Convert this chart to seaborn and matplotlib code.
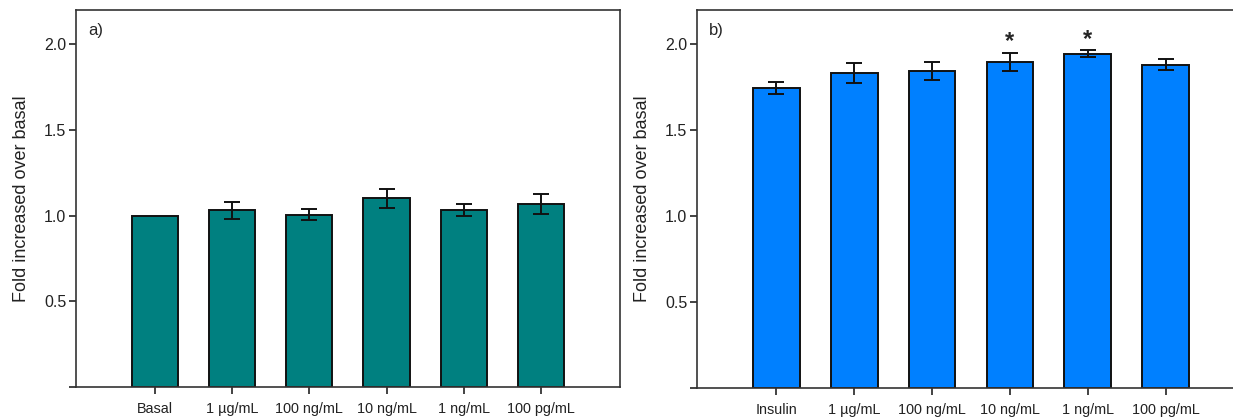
import numpy as np
import pandas as pd
import matplotlib
matplotlib.use('Agg')
import matplotlib.pyplot as plt
import seaborn as sns

sns.set_style('ticks')
plt.rcParams['font.family'] = ['Liberation Sans', 'DejaVu Sans']

# panel a
cats_a = ['Basal', '1 µg/mL', '100 ng/mL', '10 ng/mL', '1 ng/mL', '100 pg/mL']
vals_a = [1.00, 1.03, 1.005, 1.10, 1.03, 1.067]
errs_a = [0.0, 0.05, 0.033, 0.057, 0.035, 0.058]

# panel b
cats_b = ['Insulin', '1 µg/mL', '100 ng/mL', '10 ng/mL', '1 ng/mL', '100 pg/mL']
vals_b = [1.745, 1.833, 1.846, 1.90, 1.947, 1.883]
errs_b = [0.036, 0.058, 0.052, 0.053, 0.022, 0.030]
stars_b = ['', '', '', '*', '*', '']

fig = plt.figure(figsize=(12.33, 4.18), dpi=100)
ax_a = fig.add_axes([0.0616, 0.0742, 0.4412, 0.902])
ax_b = fig.add_axes([0.5653, 0.0718, 0.4445, 0.904])


def draw(ax, cats, vals, errs, color, tag):
    df = pd.DataFrame({'cat': cats, 'val': vals})
    sns.barplot(data=df, x='cat', y='val', order=cats, color=color,
                width=0.6, edgecolor='#111111', linewidth=1.4,
                errorbar=None, saturation=1, ax=ax)
    xs = np.arange(len(cats))
    e = np.array(errs)
    mask = e > 0
    ax.errorbar(xs[mask], np.array(vals)[mask], yerr=e[mask], fmt='none',
                ecolor='#111111', elinewidth=1.4, capsize=5.5, capthick=1.4)
    ax.set_xlim(-1.02, 6.02)
    ax.set_ylim(0, 2.2)
    ax.set_yticks([0, 0.5, 1.0, 1.5, 2.0])
    ax.set_yticklabels(['', '0.5', '1.0', '1.5', '2.0'], fontsize=11.5)
    ax.set_xticks(xs)
    ax.set_xticklabels(cats, fontsize=10.4)
    ax.set_xlabel('')
    ax.set_ylabel('Fold increased over basal', fontsize=13, color='#222222',
                  labelpad=10)
    ax.tick_params(axis='x', length=5, width=1.2, pad=6, colors='#222222')
    ax.tick_params(axis='y', length=5, width=1.2, pad=2, colors='#222222')
    for s in ax.spines.values():
        s.set_visible(True)
        s.set_linewidth(1.2)
        s.set_color('#333333')
    ax.text(0.022, 0.965, tag, transform=ax.transAxes, fontsize=12,
            va='top', ha='left')


draw(ax_a, cats_a, vals_a, errs_a, '#008080', 'a)')
draw(ax_b, cats_b, vals_b, errs_b, '#0080FF', 'b)')

for i, s in enumerate(stars_b):
    if s:
        ax_b.text(i, vals_b[i] + errs_b[i] - 0.005, s, ha='center', va='bottom',
                  fontsize=17, fontweight='bold')

fig.savefig('out.png', dpi=100)
